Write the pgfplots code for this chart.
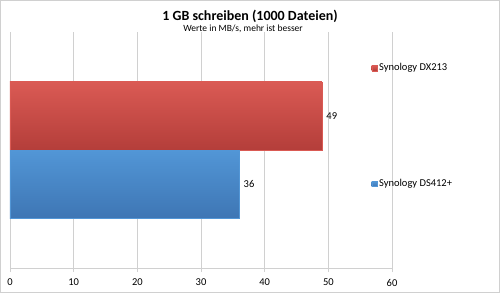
\documentclass[border=0pt]{standalone}
\usepackage{fontspec}
\setmainfont{Carlito}
\usepackage{pgfplots}
\pgfplotsset{compat=1.18}
\definecolor{redA}{RGB}{218,90,84}
\definecolor{redB}{RGB}{180,62,58}
\definecolor{blueA}{RGB}{82,150,214}
\definecolor{blueB}{RGB}{62,118,180}
\definecolor{gridc}{RGB}{208,208,208}
\begin{document}
\begin{tikzpicture}[x=1pt,y=1pt]
\useasboundingbox (-10,-25) rectangle (490,268);
\begin{axis}[
  anchor=south west, at={(0,0)},
  scale only axis, width=382pt, height=236pt,
  xmin=0, xmax=60, ymin=-1.735, ymax=1.735,
  axis y line=none, axis x line*=bottom,
  x axis line style={gridc, line width=0.8pt, -},
  xtick={0,10,...,60}, xmajorgrids,
  grid style={gridc, line width=0.8pt},
  major tick length=4pt, tick style={gridc, line width=0.8pt}, xtick align=outside,
  ticklabel style={font=\fontsize{10.5}{12}\selectfont},
  xticklabel style={yshift=-3.5pt},
  /pgf/number format/assume math mode=true,
  xbar, bar width=68pt, bar shift=0pt,
  nodes near coords,
  nodes near coords style={font=\fontsize{10.5}{12}\selectfont, anchor=west, black, xshift=1pt},
  legend style={draw=none, fill=none, at={(0.946,0.875)}, anchor=north west,
    font=\fontsize{10.5}{12}\selectfont, row sep=103pt, inner sep=0pt},
  legend cell align=left,
  legend image code/.code={\fill[#1] (0pt,-2.6pt) rectangle (5.2pt,2.6pt);},
]
\addplot[top color=redA, bottom color=redB, draw=redA, line width=0.3pt]
  coordinates {(49,0.5)};
\addlegendentry{Synology DX213}
\addplot[top color=blueA, bottom color=blueB, draw=blueA, line width=0.3pt]
  coordinates {(36,-0.5)};
\addlegendentry{Synology DS412+}
\end{axis}
\node[font=\fontsize{14}{16}\selectfont\bfseries] at (240,252) {1 GB schreiben (1000 Dateien)};
\node[font=\fontsize{9.5}{11}\selectfont] at (233,239) {Werte in MB/s, mehr ist besser};
\draw[gridc, line width=1pt] (-9.5,-24.5) rectangle (489.5,267.5);
\end{tikzpicture}
\end{document}
